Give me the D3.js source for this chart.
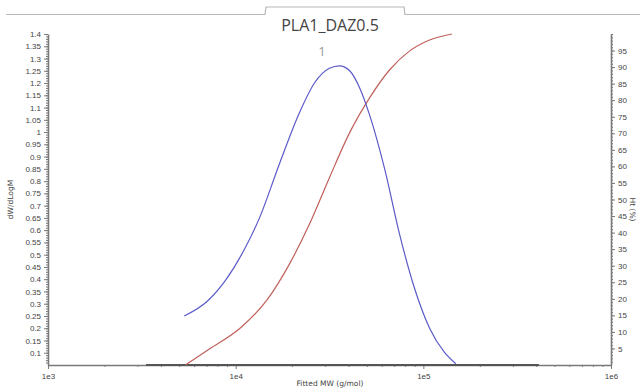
<!DOCTYPE html>
<html>
<head>
<meta charset="utf-8">
<script src="https://cdn.jsdelivr.net/npm/d3@7"></script>
<style>
  body { margin: 0; background: #fff; }
  svg { display: block; font-family: "DejaVu Sans", sans-serif; }
  .axis path, .axis line { stroke: #7a7a7a; }
  .axis text { fill: #444; font-size: 8px; }
</style>
</head>
<body>
<div id="chart"></div>
<script>
// dW/dLogM distribution (blue)
const distMW = [5320, 7060, 8920, 11100, 13400, 17100, 21900, 26300, 31600, 35800, 40500, 45800, 51700, 62200, 74900, 90000, 108000, 130000, 149000];
const distVal = [0.25, 0.31, 0.40, 0.52, 0.65, 0.87, 1.08, 1.20, 1.26, 1.27, 1.25, 1.18, 1.07, 0.85, 0.58, 0.36, 0.20, 0.10, 0.055];

// cumulative Ht (%) (red)
const cumMW = [5400, 7240, 10700, 14800, 19300, 24700, 31600, 40500, 51700, 66200, 84600, 108000, 142000];
const cumVal = [0, 4.8, 11.4, 19.9, 30.4, 42.5, 56.6, 70.2, 80.7, 89.2, 94.9, 98.2, 100];

// calibration range marked on the MW axis
const calRange = [3330, 413000];

// peak label
const peakLabel = { mw: 28800, val: 1.31, text: "1" };

const xTicks = [1e3, 1e4, 1e5, 1e6];
const xTickLabels = ["1e3", "1e4", "1e5", "1e6"];
const leftTicks = [0.1, 0.15, 0.2, 0.25, 0.3, 0.35, 0.4, 0.45, 0.5, 0.55, 0.6, 0.65, 0.7, 0.75, 0.8, 0.85, 0.9, 0.95, 1, 1.05, 1.1, 1.15, 1.2, 1.25, 1.3, 1.35, 1.4];
const rightTicks = [5, 10, 15, 20, 25, 30, 35, 40, 45, 50, 55, 60, 65, 70, 75, 80, 85, 90, 95];

const title = "PLA1_DAZ0.5";

const W = 640, H = 390;
const m = { left: 48, right: 29, top: 34, bottom: 25 };

const svg = d3.select("#chart").append("svg")
  .attr("width", W)
  .attr("height", H);

// tab strip at the top
const tab = d3.path();
tab.moveTo(6, 14.5);
tab.lineTo(265, 14.5);
tab.lineTo(266, 7);
tab.lineTo(404, 7);
tab.lineTo(405, 14.5);
tab.lineTo(640, 14.5);
svg.append("path")
  .attr("d", tab.toString())
  .attr("fill", "none")
  .attr("stroke", "#b8b8b8")
  .attr("stroke-width", 1.2);

svg.append("text")
  .attr("x", 330)
  .attr("y", 31)
  .attr("text-anchor", "middle")
  .style("font-family", "'Open Sans', sans-serif")
  .style("font-size", "16px")
  .attr("fill", "#444")
  .text(title);

// scales
const x = d3.scaleLog().domain([1e3, 1e6]).range([m.left, W - m.right]);
const yL = d3.scaleLinear().domain([0.05, 1.4]).range([H - m.bottom, m.top]);
const yR = d3.scaleLinear().domain([0, 100]).range([H - m.bottom, m.top]);

// minor ticks
const xMinor = [];
for (let d = 1e3; d < 1e6; d *= 10) for (let k = 2; k <= 9; k++) xMinor.push(d * k);
svg.append("g").attr("class", "axis")
  .attr("transform", `translate(0,${H - m.bottom})`)
  .call(d3.axisBottom(x).tickValues(xMinor).tickSize(2).tickFormat(""))
  .call(g => g.select(".domain").remove());

svg.append("g").attr("class", "axis")
  .attr("transform", `translate(${m.left},0)`)
  .call(d3.axisLeft(yL).tickValues(d3.range(6, 141).map(d => d / 100)).tickSize(2).tickFormat(""))
  .call(g => g.select(".domain").remove());

svg.append("g").attr("class", "axis")
  .attr("transform", `translate(${W - m.right},0)`)
  .call(d3.axisRight(yR).tickValues(d3.range(1, 101)).tickSize(2).tickFormat(""))
  .call(g => g.select(".domain").remove());

// major axes
svg.append("g").attr("class", "axis")
  .attr("transform", `translate(0,${H - m.bottom})`)
  .call(d3.axisBottom(x).tickValues(xTicks).tickSize(4).tickSizeOuter(0)
    .tickFormat((d, i) => xTickLabels[i]))
  .call(g => g.select(".domain").attr("stroke-width", 1.6))
  .call(g => g.selectAll("text").attr("dy", "0.9em"));

svg.append("g").attr("class", "axis")
  .attr("transform", `translate(${m.left},0)`)
  .call(d3.axisLeft(yL).tickValues(leftTicks).tickSize(4).tickSizeOuter(0)
    .tickFormat(d => String(+d.toFixed(2))))
  .call(g => g.select(".domain").attr("stroke-width", 1.6));

svg.append("g").attr("class", "axis")
  .attr("transform", `translate(${W - m.right},0)`)
  .call(d3.axisRight(yR).tickValues(rightTicks).tickSize(4).tickSizeOuter(0))
  .call(g => g.select(".domain").attr("stroke-width", 1.6));

// calibration range bar
svg.append("line")
  .attr("x1", x(calRange[0]))
  .attr("x2", x(calRange[1]))
  .attr("y1", H - m.bottom)
  .attr("y2", H - m.bottom)
  .attr("stroke", "#555")
  .attr("stroke-width", 2);

// axis titles
svg.append("text")
  .attr("transform", `translate(13,${(m.top + H - m.bottom) / 2}) rotate(-90)`)
  .attr("text-anchor", "middle")
  .style("font-size", "7.5px")
  .attr("fill", "#444")
  .text("dW/dLogM");

svg.append("text")
  .attr("transform", `translate(630,${(m.top + H - m.bottom) / 2 + 10}) rotate(90)`)
  .attr("text-anchor", "middle")
  .style("font-size", "7.5px")
  .attr("fill", "#444")
  .text("Ht (%)");

svg.append("text")
  .attr("x", 330)
  .attr("y", 386)
  .attr("text-anchor", "middle")
  .style("font-size", "7.5px")
  .attr("fill", "#444")
  .text("Fitted MW (g/mol)");

// curves
const dist = distMW.map((d, i) => ({ mw: d, v: distVal[i] }));
const cum = cumMW.map((d, i) => ({ mw: d, v: cumVal[i] }));

svg.append("path")
  .datum(cum)
  .attr("fill", "none")
  .attr("stroke", "#c0605a")
  .attr("stroke-width", 1.2)
  .attr("d", d3.line().x(d => x(d.mw)).y(d => yR(d.v)).curve(d3.curveMonotoneX));

svg.append("path")
  .datum(dist)
  .attr("fill", "none")
  .attr("stroke", "#5a5ac8")
  .attr("stroke-width", 1.2)
  .attr("d", d3.line().x(d => x(d.mw)).y(d => yL(d.v)).curve(d3.curveMonotoneX));

// peak label
svg.append("text")
  .attr("x", x(peakLabel.mw))
  .attr("y", yL(peakLabel.val))
  .attr("text-anchor", "middle")
  .style("font-family", "'Open Sans', sans-serif")
  .style("font-size", "13px")
  .attr("fill", "#999")
  .text(peakLabel.text);
</script>
</body>
</html>
